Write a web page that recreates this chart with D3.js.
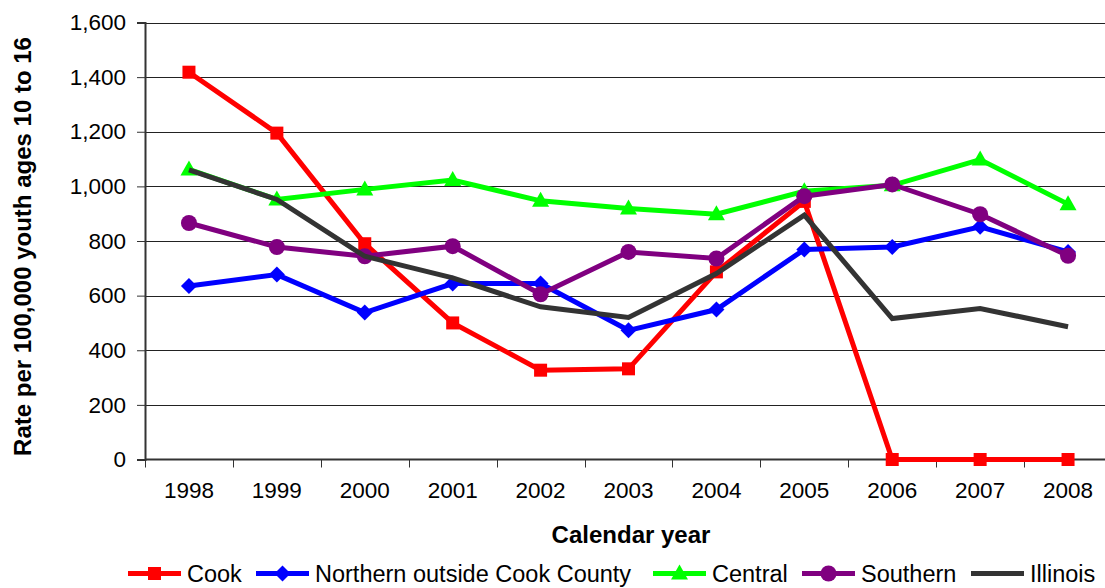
<!DOCTYPE html>
<html><head><meta charset="utf-8">
<script src="https://cdn.jsdelivr.net/npm/d3@7"></script>
<style>html,body{margin:0;padding:0;background:#fff;}svg{display:block;font-family:"Liberation Sans",Arial,sans-serif;}</style>
</head><body><svg id="c" width="1105" height="588"></svg>
<script>
const years = ["1998","1999","2000","2001","2002","2003","2004","2005","2006","2007","2008"];
const cook = [1418,1195,790,500,327,332,687,945,0,0,0];
const northern = [635,677,538,644,644,473,549,769,778,852,760];
const central = [1062,952,989,1023,947,919,898,982,1004,1098,935];
const southern = [866,778,744,781,605,760,736,964,1007,898,746];
const illinois = [1060,952,744,665,559,520,681,895,516,553,486];
const yTicks = [0,200,400,600,800,1000,1200,1400,1600];
const seriesNames = ["Cook","Northern outside Cook County","Central","Southern","Illinois"];
const seriesColors = ["#FF0000","#0000FF","#00FF00","#800080","#333333"];
const seriesMarkers = ["square","diamond","triangle","circle","none"];
const seriesData = [cook, northern, central, southern, illinois];

const svg = d3.select("#c");
const x = d3.scalePoint().domain(years).range([145, 1112]).padding(0.5);
const y = d3.scaleLinear().domain([0,1600]).range([459.5, 22.5]);
const step = x.step();

// gridlines
svg.append("g").selectAll("line").data(yTicks.filter(d=>d>0)).join("line")
  .attr("x1",145).attr("x2",1112).attr("y1",d=>Math.round(y(d))+0.5).attr("y2",d=>Math.round(y(d))+0.5)
  .attr("stroke","#222").attr("stroke-width",1);

// y axis
const yAxis = d3.axisLeft(y).tickValues(yTicks).tickSize(8).tickPadding(11).tickFormat(d3.format(","));
const gy = svg.append("g").attr("transform","translate(145,0)").call(yAxis);
gy.select(".domain").attr("stroke","#333").attr("stroke-width",2);
gy.selectAll(".tick line").attr("stroke","#333").attr("stroke-width",1);
gy.selectAll("text").attr("font-size",22.5).attr("fill","#000").attr("font-family","Liberation Sans, Arial, sans-serif");

// x axis line and ticks at band boundaries
svg.append("line").attr("x1",145).attr("x2",1112).attr("y1",y(0)).attr("y2",y(0)).attr("stroke","#333").attr("stroke-width",2);
const bounds = d3.range(years.length+1).map(i=>145+i*step);
svg.append("g").selectAll("line").data(bounds).join("line")
  .attr("x1",d=>Math.round(d)+0.5).attr("x2",d=>Math.round(d)+0.5).attr("y1",y(0)).attr("y2",y(0)+8)
  .attr("stroke","#333").attr("stroke-width",1);
svg.append("g").selectAll("text").data(years).join("text")
  .attr("x",d=>x(d)).attr("y",498).attr("text-anchor","middle").attr("font-size",22.5).attr("fill","#000").text(d=>d);

// axis titles
svg.append("text").attr("x",631).attr("y",543).attr("text-anchor","middle").attr("font-size",24).attr("font-weight","bold").text("Calendar year");
svg.append("text").attr("transform","translate(31,246.5) rotate(-90)").attr("text-anchor","middle").attr("font-size",24).attr("font-weight","bold").text("Rate per 100,000 youth ages 10 to 16");

function marker(g, type, color, cx, cy) {
  if (type==="square") g.append("rect").attr("x",cx-6.5).attr("y",cy-6.5).attr("width",13).attr("height",13).attr("fill",color);
  else if (type==="diamond") g.append("path").attr("d",`M${cx},${cy-8}L${cx+8},${cy}L${cx},${cy+8}L${cx-8},${cy}Z`).attr("fill",color);
  else if (type==="triangle") g.append("path").attr("d",`M${cx},${cy-9}L${cx+8.5},${cy+6}L${cx-8.5},${cy+6}Z`).attr("fill",color);
  else if (type==="circle") g.append("circle").attr("cx",cx).attr("cy",cy).attr("r",8).attr("fill",color);
}

const line = d3.line().x((d,i)=>x(years[i])).y(d=>y(d));
const lg = svg.append("g");
seriesData.forEach((s,k)=>{
  lg.append("path").attr("d",line(s)).attr("fill","none").attr("stroke",seriesColors[k]).attr("stroke-width",5).attr("stroke-linejoin","miter");
  const mg = lg.append("g");
  s.forEach((v,i)=>marker(mg, seriesMarkers[k], seriesColors[k], x(years[i]), y(v)));
});

// legend
const legX = [128, 256, 653, 802, 971];
const legY = 573.5;
seriesNames.forEach((n,k)=>{
  const g = svg.append("g");
  g.append("line").attr("x1",legX[k]).attr("x2",legX[k]+53).attr("y1",legY).attr("y2",legY).attr("stroke",seriesColors[k]).attr("stroke-width",5);
  marker(g, seriesMarkers[k], seriesColors[k], legX[k]+26.5, legY);
  g.append("text").attr("x",legX[k]+59).attr("y",legY+8.5).attr("font-size",23.5).attr("fill","#000").text(n);
});
</script></body></html>
